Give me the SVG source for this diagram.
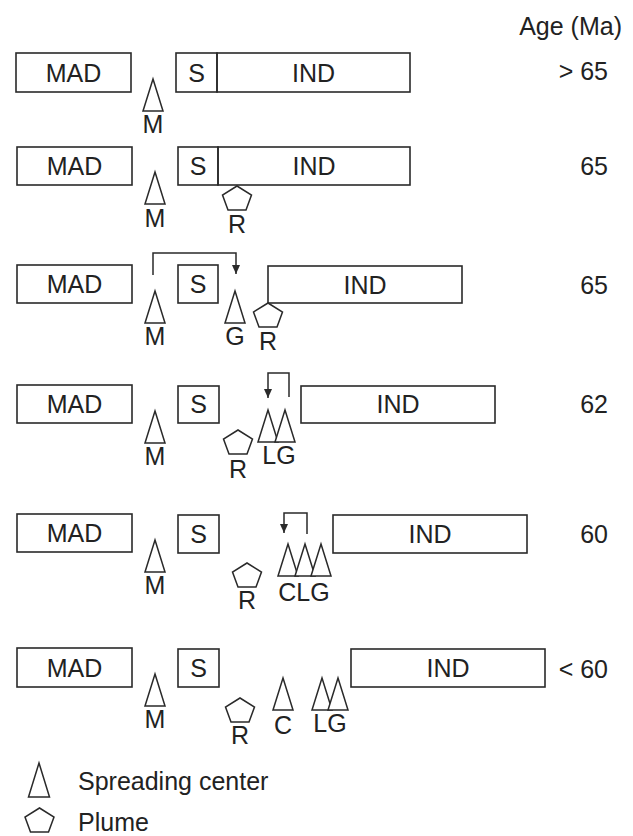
<svg xmlns="http://www.w3.org/2000/svg" width="633" height="836" viewBox="0 0 633 836">
<style>
.b{fill:none;stroke:#2a2a2a;stroke-width:1.6}
.sh{fill:#fff;stroke:#2a2a2a;stroke-width:1.5;stroke-linejoin:miter}
.c{fill:none;stroke:#2a2a2a;stroke-width:1.5}
text{font-family:"Liberation Sans",Arial,sans-serif;font-size:25px;fill:#222}
.m{text-anchor:middle}
.e{text-anchor:end}
</style>
<defs>
<polygon id="tri" class="sh" points="0,0 10,32 -10,32"/>
<polygon id="pent" class="sh" points="0,0 14.5,9 9,24 -9,24 -14.5,9"/>
<marker id="ah" markerWidth="8" markerHeight="9" refX="4" refY="9" orient="0" markerUnits="userSpaceOnUse">
<path d="M0,0 L8,0 L4,9 Z" fill="#2a2a2a"/>
</marker>
</defs>
<text id="age-title" x="622" y="35" class="e">Age (Ma)</text>

<!-- Row 1 -->
<g id="r1-mad"><rect class="b" x="16" y="53" width="115" height="39"/><text x="73.5" y="82" class="m">MAD</text></g>
<g id="r1-s"><rect class="b" x="176" y="53" width="41" height="39"/><text x="196.5" y="82" class="m">S</text></g>
<g id="r1-ind"><rect class="b" x="217" y="53" width="193" height="39"/><text x="313.5" y="82" class="m">IND</text></g>
<g id="r1-M"><use href="#tri" x="153" y="79"/><text x="153" y="133" class="m">M</text></g>
<text id="r1-age" x="608" y="80" class="e">&gt; 65</text>

<!-- Row 2 -->
<g id="r2-mad"><rect class="b" x="17" y="147" width="115" height="38"/><text x="74.5" y="175" class="m">MAD</text></g>
<g id="r2-s"><rect class="b" x="178" y="147" width="40" height="38"/><text x="198" y="175" class="m">S</text></g>
<g id="r2-ind"><rect class="b" x="218" y="147" width="192" height="38"/><text x="314" y="175" class="m">IND</text></g>
<g id="r2-M"><use href="#tri" x="155" y="172"/><text x="155" y="227" class="m">M</text></g>
<g id="r2-R"><use href="#pent" x="237" y="186"/><text x="237" y="233" class="m">R</text></g>
<text id="r2-age" x="608" y="175" class="e">65</text>

<!-- Row 3 -->
<g id="r3-mad"><rect class="b" x="17" y="265" width="115" height="38"/><text x="74.5" y="293" class="m">MAD</text></g>
<g id="r3-s"><rect class="b" x="178" y="265" width="40" height="38"/><text x="198" y="293" class="m">S</text></g>
<g id="r3-ind"><rect class="b" x="268" y="266" width="194" height="37"/><text x="365" y="294" class="m">IND</text></g>
<g id="r3-M"><use href="#tri" x="155" y="291"/><text x="155" y="345" class="m">M</text></g>
<g id="r3-G"><use href="#tri" x="235" y="291"/><text x="235" y="345" class="m">G</text></g>
<g id="r3-R"><use href="#pent" x="268" y="303"/><text x="268" y="350" class="m">R</text></g>
<text id="r3-age" x="608" y="294" class="e">65</text>

<!-- Row 4 -->
<g id="r4-mad"><rect class="b" x="17" y="385" width="115" height="38"/><text x="74.5" y="413" class="m">MAD</text></g>
<g id="r4-s"><rect class="b" x="178" y="386" width="41" height="37"/><text x="198.5" y="413" class="m">S</text></g>
<g id="r4-ind"><rect class="b" x="301" y="386" width="194" height="37"/><text x="398" y="413" class="m">IND</text></g>
<g id="r4-M"><use href="#tri" x="155" y="411"/><text x="155" y="465" class="m">M</text></g>
<g id="r4-R"><use href="#pent" x="238" y="430"/><text x="238" y="478" class="m">R</text></g>
<g id="r4-LG"><use href="#tri" x="268" y="410"/><use href="#tri" x="285" y="410"/><text x="279" y="464" class="m">LG</text></g>
<text id="r4-age" x="608" y="413" class="e">62</text>

<!-- Row 5 -->
<g id="r5-mad"><rect class="b" x="17" y="514" width="115" height="38"/><text x="74.5" y="542" class="m">MAD</text></g>
<g id="r5-s"><rect class="b" x="178" y="515" width="41" height="38"/><text x="198.5" y="543" class="m">S</text></g>
<g id="r5-ind"><rect class="b" x="333" y="515" width="194" height="38"/><text x="430" y="543" class="m">IND</text></g>
<g id="r5-M"><use href="#tri" x="155" y="540"/><text x="155" y="594" class="m">M</text></g>
<g id="r5-R"><use href="#pent" x="247" y="563"/><text x="247" y="609" class="m">R</text></g>
<g id="r5-CLG"><use href="#tri" x="288" y="544"/><use href="#tri" x="305" y="544"/><use href="#tri" x="321" y="544"/><text x="304" y="601" class="m">CLG</text></g>
<text id="r5-age" x="608" y="543" class="e">60</text>

<!-- Row 6 -->
<g id="r6-mad"><rect class="b" x="17" y="648" width="115" height="39"/><text x="74.5" y="677" class="m">MAD</text></g>
<g id="r6-s"><rect class="b" x="178" y="649" width="41" height="38"/><text x="198.5" y="677" class="m">S</text></g>
<g id="r6-ind"><rect class="b" x="351" y="649" width="194" height="38"/><text x="448" y="677" class="m">IND</text></g>
<g id="r6-M"><use href="#tri" x="155" y="674"/><text x="155" y="728" class="m">M</text></g>
<g id="r6-R"><use href="#pent" x="240" y="698"/><text x="240" y="744" class="m">R</text></g>
<g id="r6-C"><use href="#tri" x="283" y="678"/><text x="283" y="734" class="m">C</text></g>
<g id="r6-LG"><use href="#tri" x="322" y="678"/><use href="#tri" x="338" y="678"/><text x="330" y="732" class="m">LG</text></g>
<text id="r6-age" x="608" y="678" class="e">&lt; 60</text>

<!-- Legend -->
<g id="legend-spreading"><polygon class="sh" points="39,763 49.5,797 28.5,797"/><text x="78" y="790">Spreading center</text></g>
<g id="legend-plume"><use href="#pent" x="39.5" y="808"/><text x="78" y="831">Plume</text></g>

<!-- Connectors -->
<g id="connectors">
<path class="c" d="M153,275 V253 H236 V274" marker-end="url(#ah)"/>
<path class="c" d="M289,397 V373 H268 V398" marker-end="url(#ah)"/>
<path class="c" d="M307,534 V513 H284 V533" marker-end="url(#ah)"/>
</g>
</svg>
